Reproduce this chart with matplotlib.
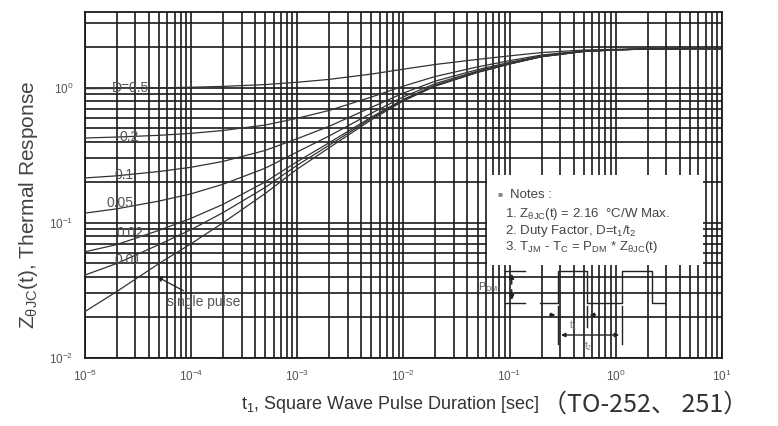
import matplotlib
matplotlib.use("Agg")
import matplotlib.pyplot as plt
from matplotlib.patches import Rectangle
from matplotlib.ticker import LogLocator, NullFormatter

plt.rcParams['font.family'] = ['Liberation Sans', 'DejaVu Sans']
plt.rcParams['mathtext.fontset'] = 'custom'
plt.rcParams['mathtext.rm'] = 'Liberation Sans'
plt.rcParams['mathtext.it'] = 'Liberation Sans'

# pulse duration (s)
t = [1e-5, 2e-5, 5e-5, 1e-4, 2e-4, 5e-4, 1e-3, 2e-3, 5e-3, 1e-2,
     2e-2, 5e-2, 0.1, 0.2, 0.5, 1, 2, 5, 10]

# thermal response
z_single = [0.022, 0.031, 0.05, 0.07, 0.1, 0.165, 0.25, 0.36, 0.58, 0.8,
            1.03, 1.3, 1.5, 1.7, 1.86, 1.91, 1.94, 1.95, 1.95]
z_d001 = [0.041, 0.05, 0.069, 0.089, 0.119, 0.183, 0.267, 0.376, 0.594, 0.812,
          1.039, 1.307, 1.505, 1.703, 1.861, 1.91, 1.94, 1.95, 1.95]
z_d002 = [0.061, 0.069, 0.088, 0.108, 0.137, 0.201, 0.284, 0.392, 0.607, 0.823,
          1.048, 1.313, 1.509, 1.705, 1.862, 1.911, 1.94, 1.95, 1.95]
z_d005 = [0.118, 0.127, 0.145, 0.164, 0.193, 0.254, 0.335, 0.44, 0.649, 0.858,
          1.076, 1.333, 1.523, 1.713, 1.865, 1.912, 1.94, 1.95, 1.95]
z_d01 = [0.215, 0.223, 0.24, 0.258, 0.285, 0.344, 0.42, 0.519, 0.717, 0.915,
         1.122, 1.365, 1.545, 1.725, 1.869, 1.914, 1.941, 1.95, 1.95]
z_d02 = [0.425, 0.432, 0.445, 0.46, 0.483, 0.53, 0.595, 0.68, 0.855, 1.03,
         1.214, 1.43, 1.59, 1.75, 1.878, 1.918, 1.942, 1.95, 1.95]
z_d05 = [0.986, 0.99, 1.0, 1.01, 1.025, 1.057, 1.1, 1.155, 1.265, 1.375,
         1.49, 1.625, 1.725, 1.825, 1.905, 1.93, 1.945, 1.95, 1.95]

curves = [z_d05, z_d02, z_d01, z_d005, z_d002, z_d001, z_single]

# curve labels and where they sit (data coords)
labels = ['D=0.5', '0.2', '0.1', '0.05', '0.02', '0.01']
label_x = [1.8e-5, 2.1e-5, 1.9e-5, 1.6e-5, 2.0e-5, 1.9e-5]
label_y = [1.0, 0.43, 0.225, 0.14, 0.084, 0.053]

xticks = [1e-5, 1e-4, 1e-3, 1e-2, 1e-1, 1, 10]
xticklabels = ['$10^{-5}$', '$10^{-4}$', '$10^{-3}$', '$10^{-2}$',
               '$10^{-1}$', '$10^{0}$', '$10^{1}$']
yticks = [1e-2, 1e-1, 1]
yticklabels = ['$10^{-2}$', '$10^{-1}$', '$10^{0}$']

fig = plt.figure(figsize=(7.78, 4.26), dpi=100)
ax = fig.add_axes([0.109, 0.16, 0.819, 0.812])
ax.set_xscale('log')
ax.set_yscale('log')
ax.set_xlim(1e-5, 10)
ax.set_ylim(1e-2, 3.65)

ax.xaxis.set_minor_locator(LogLocator(base=10, subs=range(2, 10), numticks=20))
ax.yaxis.set_minor_locator(LogLocator(base=10, subs=range(2, 10), numticks=20))
ax.xaxis.set_minor_formatter(NullFormatter())
ax.yaxis.set_minor_formatter(NullFormatter())
ax.grid(True, which='both', color='#1a1a1a', linewidth=1.2)
ax.set_axisbelow(True)

for z in curves:
    ax.plot(t, z, color='#333333', linewidth=0.9, zorder=3)

for lab, lx, ly in zip(labels, label_x, label_y):
    ax.text(lx, ly, lab, fontsize=10, color='#555555', va='center', ha='left',
            zorder=4)

ax.annotate('single pulse', xy=(4.5e-5, 0.041), xytext=(6e-5, 0.026),
            fontsize=10, color='#555555', va='center', ha='left', zorder=4,
            arrowprops=dict(arrowstyle='-|>', color='#222222', lw=0.9,
                            mutation_scale=8))

ax.set_xticks(xticks)
ax.set_xticklabels(xticklabels)
ax.set_yticks(yticks)
ax.set_yticklabels(yticklabels)
ax.tick_params(which='both', length=0, labelsize=8.5, labelcolor='#555555',
               pad=8)
for s in ax.spines.values():
    s.set_linewidth(1.3)
    s.set_color('#1a1a1a')

# notes box
tr = ax.transAxes
ax.add_patch(Rectangle((0.631, 0.269), 0.339, 0.26, transform=tr,
                       facecolor='white', edgecolor='none', zorder=5))
ax.text(0.648, 0.471, '■', transform=tr, fontsize=6, color='#888888',
        va='center', zorder=6)
ax.text(0.668, 0.471, 'Notes :', transform=tr, fontsize=9.5, color='#444444',
        va='center', zorder=6)
notes = [r'1. Z$_{\theta JC}$(t) = 2.16  °C/W Max.',
         r'2. Duty Factor, D=t$_1$/t$_2$',
         r'3. T$_{JM}$ - T$_C$ = P$_{DM}$ * Z$_{\theta JC}$(t)']
for i, line in enumerate(notes):
    ax.text(0.66, 0.415 - i * 0.048, line, transform=tr, fontsize=9.5,
            color='#444444', va='center', zorder=6)

# square wave sketch
k = dict(transform=tr, color='#222222', lw=1.0, zorder=6)
ax.plot([0.714, 0.743, 0.743, 0.788, 0.788, 0.843, 0.843, 0.890, 0.890, 0.911],
        [0.159, 0.159, 0.251, 0.251, 0.159, 0.159, 0.251, 0.251, 0.159, 0.159],
        **k)
ax.plot([0.659, 0.691], [0.251, 0.251], **k)
ax.plot([0.659, 0.691], [0.159, 0.159], **k)
ax.annotate('', xy=(0.67, 0.251), xytext=(0.67, 0.205), xycoords=tr,
            arrowprops=dict(arrowstyle='-|>', color='#222222', lw=1,
                            mutation_scale=7), zorder=6)
ax.annotate('', xy=(0.67, 0.159), xytext=(0.67, 0.205), xycoords=tr,
            arrowprops=dict(arrowstyle='-|>', color='#222222', lw=1,
                            mutation_scale=7), zorder=6)
ax.text(0.648, 0.205, r'P$_{DM}$', transform=tr, fontsize=7.5,
        color='#555555', ha='right', va='center', zorder=6)
ax.plot([0.743, 0.743], [0.04, 0.15], **k)
ax.plot([0.788, 0.788], [0.09, 0.15], **k)
ax.plot([0.843, 0.843], [0.04, 0.15], **k)
ax.annotate('', xy=(0.743, 0.124), xytext=(0.725, 0.124), xycoords=tr,
            arrowprops=dict(arrowstyle='-|>', color='#222222', lw=1,
                            mutation_scale=6), zorder=6)
ax.annotate('', xy=(0.788, 0.124), xytext=(0.806, 0.124), xycoords=tr,
            arrowprops=dict(arrowstyle='-|>', color='#222222', lw=1,
                            mutation_scale=6), zorder=6)
ax.annotate('', xy=(0.743, 0.066), xytext=(0.843, 0.066), xycoords=tr,
            arrowprops=dict(arrowstyle='<|-|>', color='#222222', lw=1,
                            mutation_scale=6), zorder=6)
ax.text(0.766, 0.095, r't$_1$', transform=tr, fontsize=7, color='#777777',
        ha='center', va='center', zorder=6)
ax.text(0.79, 0.035, r't$_2$', transform=tr, fontsize=7, color='#777777',
        ha='center', va='center', zorder=6)

fig.text(0.036, 0.52, r'Z$_{\theta JC}$(t), Thermal Response', rotation=90,
         fontsize=15, color='#444444', ha='center', va='center')
fig.text(0.694, 0.05, r't$_1$, Square Wave Pulse Duration [sec]',
         fontsize=13, color='#333333', ha='right', va='center')
fig.text(0.697, 0.05, '（TO-252、 251）', fontsize=18, color='#333333',
         ha='left', va='center',
         family=['Noto Sans CJK JP', 'DejaVu Sans'])

fig.savefig('out.png', dpi=100)
